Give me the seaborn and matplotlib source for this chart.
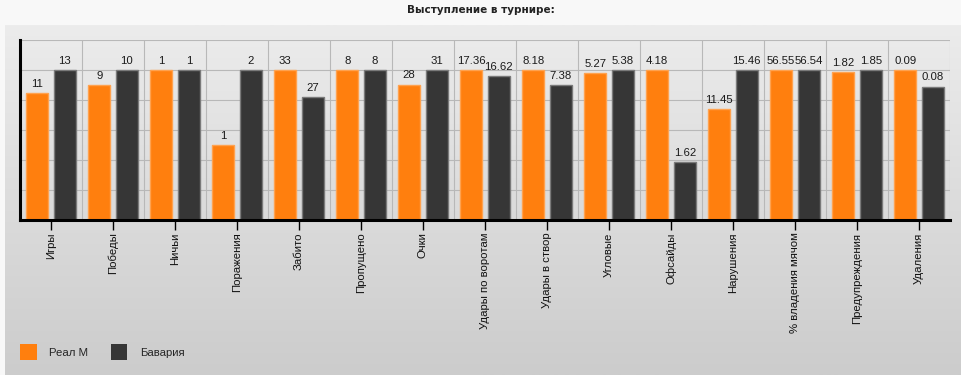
import numpy as np
import pandas as pd
import seaborn as sns
import matplotlib.pyplot as plt
from matplotlib.colors import LinearSegmentedColormap

# data
categories = ['Игры', 'Победы', 'Ничьи', 'Поражения', 'Забито', 'Пропущено', 'Очки',
              'Удары по воротам', 'Удары в створ', 'Угловые', 'Офсайды', 'Нарушения',
              '% владения мячом', 'Предупреждения', 'Удаления']
real = [11, 9, 1, 1, 33, 8, 28, 17.36, 8.18, 5.27, 4.18, 11.45, 56.55, 1.82, 0.09]
bayern = [13, 10, 1, 2, 27, 8, 31, 16.62, 7.38, 5.38, 1.62, 15.46, 56.54, 1.85, 0.08]
real_labels = ['11', '9', '1', '1', '33', '8', '28', '17.36', '8.18', '5.27', '4.18',
               '11.45', '56.55', '1.82', '0.09']
bayern_labels = ['13', '10', '1', '2', '27', '8', '31', '16.62', '7.38', '5.38', '1.62',
                 '15.46', '56.54', '1.85', '0.08']
teams = ['Реал М', 'Бавария']
colors = ['#FF7F0E', '#363636']
edges = ['#FFA24F', '#7A7A7A']

# each pair is scaled to its own maximum
df = pd.DataFrame({
    'cat': categories * 2,
    'team': [teams[0]] * len(categories) + [teams[1]] * len(categories),
    'value': real + bayern,
})
df['norm'] = df['value'] / df.groupby('cat')['value'].transform('max')

sns.set_style('white')
plt.rcParams['font.family'] = ['Liberation Sans', 'DejaVu Sans']

fig = plt.figure(figsize=(9.62, 3.75), dpi=100, facecolor='#F8F8F8')

# grey gradient panel behind the chart
bg = fig.add_axes([5 / 962, 0, 957 / 962, 350 / 375], zorder=-5)
grad = LinearSegmentedColormap.from_list('g', ['#CCCCCC', '#ECECEC'])
bg.imshow(np.linspace(0, 1, 256).reshape(-1, 1), cmap=grad, aspect='auto', origin='lower')
bg.axis('off')

ax = fig.add_axes([20 / 962, 1 - 220 / 375, 930 / 962, 180 / 375])
ax.set_facecolor('none')
ax.set_axisbelow(True)

sns.barplot(data=df, x='cat', y='norm', hue='team', order=categories, hue_order=teams,
            palette=colors, width=0.89, gap=0.2, linewidth=1, saturation=1,
            legend=False, ax=ax, zorder=3)

for cont, ec, labs in zip(ax.containers, edges, [real_labels, bayern_labels]):
    for b in cont:
        b.set_edgecolor(ec)
    ax.bar_label(cont, labels=labs, padding=3, fontsize=8.2, color='#1A1A1A')

ax.set_xlim(-0.5, len(categories) - 0.5)
ax.set_ylim(0, 1.2)
ax.set_yticks(np.arange(0, 1.21, 0.2))
ax.set_yticklabels([])
ax.set_xticks(range(len(categories)))
ax.set_xticklabels(categories, rotation=90, fontsize=8.2, color='#111111')
ax.set_xticks(np.arange(-0.5, len(categories)), minor=True)
ax.tick_params(axis='x', which='major', length=7, width=1, color='black', pad=2, bottom=True)
ax.tick_params(axis='x', which='minor', length=0)
ax.tick_params(axis='y', length=0)
ax.grid(axis='y', which='major', color='#B8B8B8', linewidth=0.8, zorder=0)
ax.grid(axis='x', which='minor', color='#B8B8B8', linewidth=0.8, zorder=0)
ax.set_xlabel('')
ax.set_ylabel('')

for s in ['top', 'right']:
    ax.spines[s].set_visible(False)
for s in ['left', 'bottom']:
    ax.spines[s].set_color('black')
    ax.spines[s].set_linewidth(2.2)
    ax.spines[s].set_zorder(5)

fig.text(0.5, 1 - 10 / 375, 'Выступление в турнире:', ha='center', va='center',
         fontsize=7.5, fontweight='bold', family=['DejaVu Sans'], color='#222222')

handles = [plt.Rectangle((0, 0), 1, 1, facecolor=c, edgecolor='none') for c in colors]
fig.legend(handles, teams, loc='center left', bbox_to_anchor=(20 / 962, 1 - 352 / 375),
           ncol=2, frameon=False, fontsize=8.2, borderpad=0, borderaxespad=0,
           handlelength=1.45, handleheight=1.85, handletextpad=1.1, columnspacing=2.0)

fig.savefig('out.png', dpi=100, facecolor=fig.get_facecolor())
